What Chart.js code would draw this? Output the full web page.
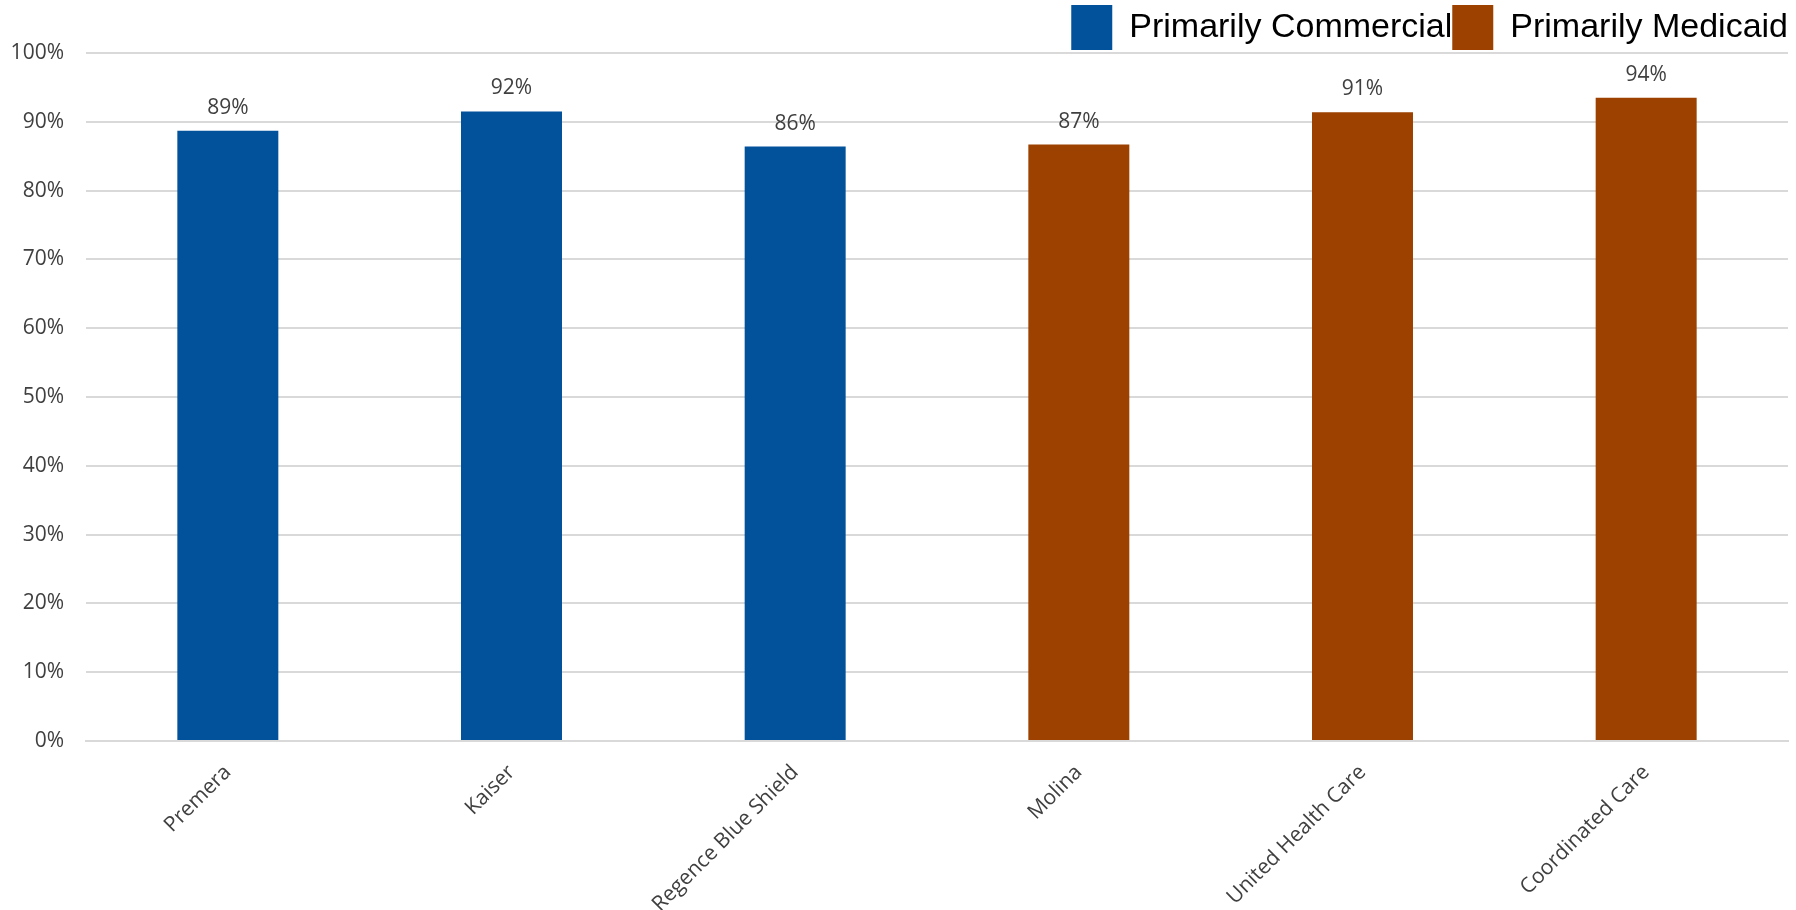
<!DOCTYPE html>
<html>
<head>
<meta charset="utf-8">
<script src="https://cdn.jsdelivr.net/npm/chart.js@4.4.1/dist/chart.umd.min.js"></script>
<style>
  html, body { margin: 0; padding: 0; background: #ffffff; }
  #wrap { width: 1796px; height: 910px; position: relative; }
</style>
</head>
<body>
<div id="wrap"><canvas id="chart"></canvas></div>
<script>
var categories = ['Premera', 'Kaiser', 'Regence Blue Shield', 'Molina', 'United Health Care', 'Coordinated Care'];
var commercialValues = [88.7, 91.5, 86.4, null, null, null];
var medicaidValues = [null, null, null, 86.7, 91.4, 93.5];
var seriesNames = ['Primarily Commercial', 'Primarily Medicaid'];
var yTicks = [0, 10, 20, 30, 40, 50, 60, 70, 80, 90, 100];

var blue = '#02519b';
var brown = '#9c4100';
var textColor = '#404040';
var gridColor = '#d9d9d9';

// percent labels above each bar
var valueLabels = {
  id: 'valueLabels',
  afterDatasetsDraw: function (chart) {
    var ctx = chart.ctx;
    ctx.save();
    ctx.font = '21px "Open Sans"';
    ctx.fillStyle = textColor;
    ctx.textAlign = 'center';
    ctx.textBaseline = 'alphabetic';
    chart.data.datasets.forEach(function (ds, di) {
      chart.getDatasetMeta(di).data.forEach(function (bar, i) {
        var v = ds.data[i];
        if (v === null) return;
        ctx.fillText(Math.round(v) + '%', bar.x, bar.y - 17);
      });
    });
    ctx.restore();
  }
};

new Chart(document.getElementById('chart'), {
  type: 'bar',
  data: {
    labels: categories,
    datasets: [
      { label: seriesNames[0], data: commercialValues, backgroundColor: blue },
      { label: seriesNames[1], data: medicaidValues, backgroundColor: brown }
    ]
  },
  options: {
    responsive: true,
    maintainAspectRatio: false,
    animation: false,
    layout: { padding: { left: 8, right: 8, top: 5, bottom: 0 } },
    datasets: {
      bar: { grouped: false, categoryPercentage: 1, barPercentage: 0.356 }
    },
    plugins: {
      legend: {
        position: 'top',
        align: 'end',
        maxHeight: 48,
        labels: {
          boxWidth: 41,
          boxHeight: 45,
          padding: 0,
          color: '#000000',
          font: { family: '"Liberation Sans", Arial, sans-serif', size: 34 }
        }
      },
      tooltip: { enabled: false }
    },
    scales: {
      x: {
        grid: { display: false },
        border: { color: gridColor, width: 2 },
        afterFit: function (axis) { axis.height = 169; },
        ticks: {
          color: textColor,
          maxRotation: 45,
          minRotation: 45,
          labelOffset: 0,
          padding: 11,
          font: { family: '"Open Sans", sans-serif', size: 21 }
        }
      },
      y: {
        min: 0,
        max: 100,
        afterBuildTicks: function (axis) {
          axis.ticks = yTicks.map(function (v) { return { value: v }; });
        },
        afterFit: function (axis) { axis.width = 78; },
        grid: { color: gridColor, lineWidth: 2, drawTicks: false },
        border: { display: false },
        ticks: {
          color: textColor,
          padding: 22,
          font: { family: '"Open Sans", sans-serif', size: 21 },
          callback: function (v) { return v + '%'; }
        }
      }
    }
  },
  plugins: [valueLabels]
});
</script>
</body>
</html>
